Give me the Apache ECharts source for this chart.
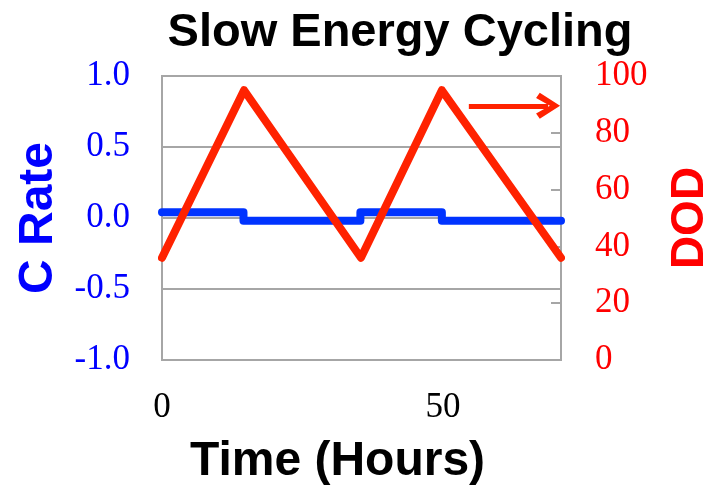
<!DOCTYPE html>
<html><head><meta charset="utf-8">
<script src="https://cdn.jsdelivr.net/npm/echarts@6/dist/echarts.min.js"></script>
<style>html,body{margin:0;padding:0;background:#fff}#c{width:722px;height:491px}</style>
</head><body><div id="c"></div>
<script>
// Data
const cRateTime = [0, 14.5, 14.5, 35.3, 35.3, 49.8, 49.8, 71];
const cRateValues = [0.04, 0.04, -0.02, -0.02, 0.04, 0.04, -0.02, -0.02];
const dodTime = [0, 14.6, 35.4, 49.8, 71];
const dodValues = [36, 95, 36, 95, 36];
const arrowFrom = [54.6, 89.5];
const arrowTo = [68.7, 89.5];
const xTickLabels = [0, 50];
const leftTicks = [-1.0, -0.5, 0.0, 0.5, 1.0];
const rightTicks = [0, 20, 40, 60, 80, 100];

const BLUE = '#0033FF', RED = '#FF2200', GRAY = '#A6A6A6';
const serif = '"Liberation Serif", "Times New Roman", serif';
const sans = '"Liberation Sans", Arial, sans-serif';

const chart = echarts.init(document.getElementById('c'));
chart.setOption({
  animation: false,
  title: {
    text: 'Slow Energy Cycling', left: 395, top: 5, textAlign: 'center',
    textStyle: { fontFamily: sans, fontWeight: 'bold', fontSize: 47, color: '#000' }
  },
  grid: { left: 162, right: 161, top: 76, bottom: 130, show: true, borderColor: GRAY, borderWidth: 2, backgroundColor: 'transparent' },
  xAxis: {
    type: 'value', min: 0, max: 71, interval: 50,
    name: 'Time (Hours)', nameLocation: 'middle', nameGap: 78,
    nameTextStyle: { fontFamily: sans, fontWeight: 'bold', fontSize: 48, color: '#000', padding: [0, 48, 0, 0] },
    axisLine: { show: false }, axisTick: { show: false }, splitLine: { show: false },
    axisLabel: { fontFamily: serif, fontSize: 35, color: '#000', margin: 30, showMaxLabel: false,
      formatter: v => xTickLabels.includes(v) ? String(v) : '' }
  },
  yAxis: [{
    type: 'value', min: -1, max: 1, interval: 0.5, position: 'left',
    name: 'C Rate', nameLocation: 'middle', nameGap: 99,
    nameTextStyle: { fontFamily: sans, fontWeight: 'bold', fontSize: 48, color: '#0000FF' },
    axisLine: { show: true, lineStyle: { color: GRAY, width: 2 } },
    axisTick: { show: true, inside: true, length: 10, lineStyle: { color: GRAY, width: 2 } },
    splitLine: { show: true, lineStyle: { color: GRAY, width: 2 } },
    axisLabel: { fontFamily: serif, fontSize: 35, color: '#0000FF', margin: 32,
      formatter: v => leftTicks.includes(+v.toFixed(1)) ? v.toFixed(1) : '' }
  }, {
    type: 'value', min: 0, max: 100, interval: 20, position: 'right',
    name: 'DOD', nameLocation: 'middle', nameGap: 106,
    nameTextStyle: { fontFamily: sans, fontWeight: 'bold', fontSize: 46, color: '#FF0000' },
    axisLine: { show: true, lineStyle: { color: GRAY, width: 2 } },
    axisTick: { show: true, inside: true, length: 10, lineStyle: { color: GRAY, width: 2 } },
    splitLine: { show: false },
    axisLabel: { fontFamily: serif, fontSize: 35, color: '#FF0000', margin: 34,
      formatter: v => rightTicks.includes(v) ? String(v) : '' }
  }],
  series: [{
    type: 'line', yAxisIndex: 0, showSymbol: false,
    data: cRateTime.map((t, i) => [t, cRateValues[i]]),
    lineStyle: { color: BLUE, width: 8, cap: 'round', join: 'round' }, z: 2
  }, {
    type: 'line', yAxisIndex: 1, showSymbol: false,
    data: dodTime.map((t, i) => [t, dodValues[i]]),
    lineStyle: { color: RED, width: 8, cap: 'round', join: 'round' }, z: 3,
    markLine: {
      silent: true, animation: false,
      symbol: ['none', 'path://M12.5,0 L25,22 L20,26 L12.5,11 L5,26 L0,22 Z'],
      symbolSize: [26, 24],
      label: { show: false },
      lineStyle: { color: RED, width: 5, type: 'solid' },
      data: [[{ coord: arrowFrom }, { coord: arrowTo }]]
    }
  }]
});
</script></body></html>
